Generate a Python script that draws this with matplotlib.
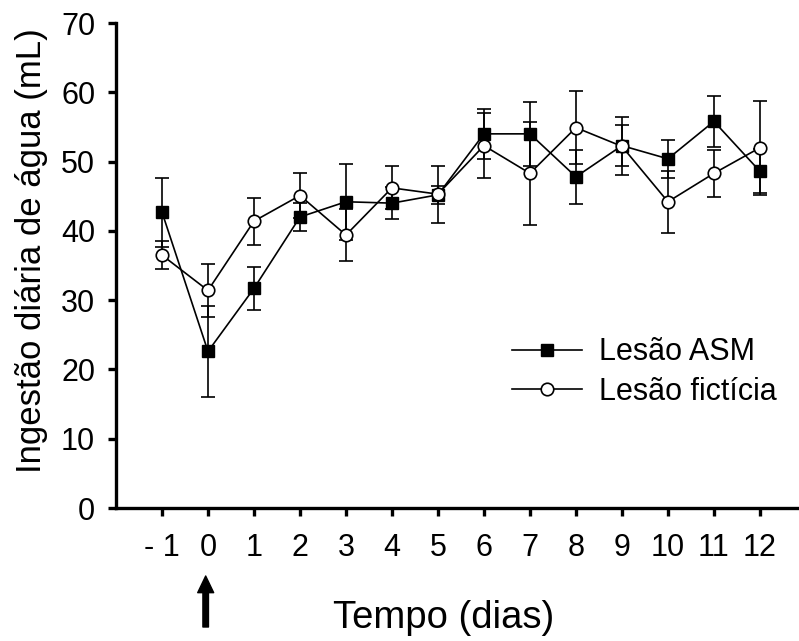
# Ingestao diaria de agua - lesao ASM vs lesao ficticia
import matplotlib
matplotlib.use('Agg')
import matplotlib.pyplot as plt
import numpy as np

plt.rcParams['font.family'] = ['Liberation Sans', 'DejaVu Sans']

# data
dias = [-1, 0, 1, 2, 3, 4, 5, 6, 7, 8, 9, 10, 11, 12]
tick_labels = ['- 1', '0', '1', '2', '3', '4', '5', '6', '7', '8', '9', '10', '11', '12']

asm = [42.7, 22.6, 31.7, 42.0, 44.2, 44.0, 45.2, 54.0, 54.0, 47.8, 52.3, 50.4, 55.8, 48.6]
asm_err = [5.0, 6.6, 3.1, 2.0, 5.5, 2.3, 1.3, 3.6, 4.6, 3.9, 3.0, 2.7, 3.7, 3.2]

fict = [36.5, 31.4, 41.4, 45.1, 39.4, 46.2, 45.3, 52.3, 48.3, 54.9, 52.2, 44.2, 48.3, 52.0]
fict_err = [2.0, 3.8, 3.4, 3.3, 3.7, 3.1, 4.1, 4.7, 7.4, 5.3, 4.2, 4.5, 3.4, 6.8]

fig = plt.figure(figsize=(7.99, 6.41), dpi=100)
ax = fig.add_axes([116/799, 1-508/641, 1-116/799, (508-23)/641])

# error bars first, then lines with markers on top
ax.errorbar(dias, asm, yerr=asm_err, fmt='none', ecolor='k', elinewidth=1.2,
            capsize=5, capthick=1.2, zorder=2)
ax.errorbar(dias, fict, yerr=fict_err, fmt='none', ecolor='k', elinewidth=1.2,
            capsize=5, capthick=1.2, zorder=2)
l1, = ax.plot(dias, asm, color='k', lw=1.2, marker='s', ms=8,
              mfc='k', mec='k', zorder=3, label='Lesão ASM')
l2, = ax.plot(dias, fict, color='k', lw=1.2, marker='o', ms=9,
              mfc='white', mec='k', mew=1.2, zorder=4, label='Lesão fictícia')

ax.set_xlim(-2, 12.85)
ax.set_ylim(0, 70)
ax.set_xticks(dias)
ax.set_xticklabels(tick_labels)
ax.set_yticks(np.arange(0, 71, 10))

for s in ['top', 'right']:
    ax.spines[s].set_visible(False)
for s in ['left', 'bottom']:
    ax.spines[s].set_linewidth(2.4)
ax.tick_params(axis='both', direction='out', length=6, width=2.4, labelsize=22)
ax.tick_params(axis='y', pad=9)
ax.tick_params(axis='x', pad=12)

ax.set_ylabel('Ingestão diária de água (mL)', fontsize=25)
ax.yaxis.label.set_va('center')
ax.yaxis.set_label_coords(-0.123, 0.53)
ax.set_xlabel('Tempo (dias)', fontsize=27.5)
ax.xaxis.label.set_va('center')
ax.xaxis.set_label_coords(0.479, -0.227)

ax.legend(handles=[l1, l2], loc='center left', frameon=False, fontsize=22,
          bbox_to_anchor=(512/799, 1-372/641), bbox_transform=fig.transFigure,
          borderpad=0, borderaxespad=0, handlelength=2.3, handletextpad=0.55,
          labelspacing=0.3, numpoints=1)

# arrow marking day 0
ax.annotate('', xy=(-0.05, 1-576/641), xytext=(-0.05, 1-627/641),
            xycoords=('data', 'figure fraction'), textcoords=('data', 'figure fraction'),
            arrowprops=dict(facecolor='k', edgecolor='k', width=4, headwidth=11.5,
                            headlength=12, shrink=0), annotation_clip=False)

fig.savefig('out.png', dpi=100)
